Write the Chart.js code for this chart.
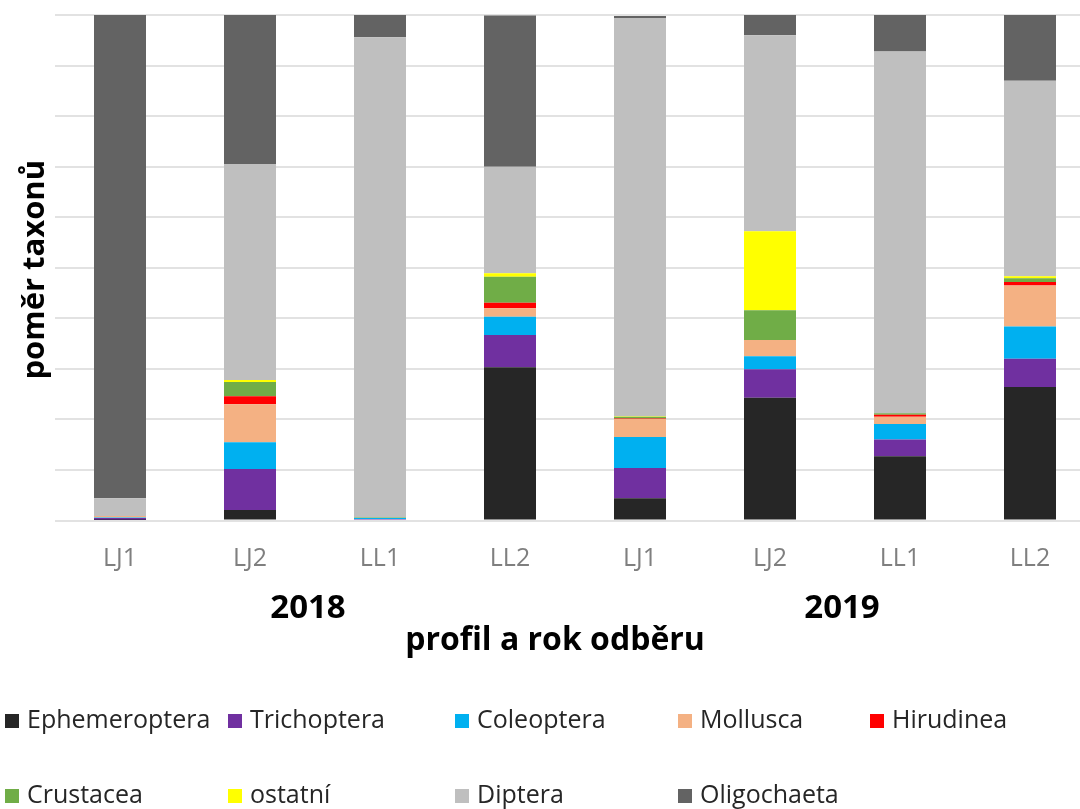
<!DOCTYPE html>
<html>
<head>
<meta charset="utf-8">
<script src="https://cdn.jsdelivr.net/npm/chart.js@4/dist/chart.umd.min.js"></script>
<style>
  html, body { margin: 0; padding: 0; background: #fff; overflow: hidden; }
  #wrap { width: 1100px; height: 809px; }
</style>
</head>
<body>
<div id="wrap"><canvas id="graf" width="1100" height="809"></canvas></div>
<script>
// profily a roky
const profily = ["LJ1", "LJ2", "LL1", "LL2", "LJ1", "LJ2", "LL1", "LL2"];
const roky = ["2018", "2019"];

// podíl taxonů v %
const ephemeroptera = [0.1, 2.1, 0.0, 30.3, 4.4, 24.3, 12.7, 26.4];
const trichoptera   = [0.4, 8.1, 0.3, 6.4, 6.0, 5.6, 3.3, 5.6];
const coleoptera    = [0.1, 5.3, 0.2, 3.6, 6.1, 2.6, 3.1, 6.4];
const mollusca      = [0.3, 7.5, 0.0, 1.7, 3.6, 3.2, 1.4, 8.1];
const hirudinea     = [0.0, 1.6, 0.0, 1.1, 0.1, 0.0, 0.4, 0.7];
const crustacea     = [0.0, 2.8, 0.1, 5.1, 0.3, 5.9, 0.3, 0.7];
const ostatni       = [0.0, 0.4, 0.0, 0.7, 0.1, 15.6, 0.0, 0.4];
const diptera       = [3.5, 42.7, 95.0, 21.1, 78.8, 38.8, 71.6, 38.7];
const oligochaeta   = [95.6, 29.5, 4.4, 29.9, 0.4, 4.0, 7.3, 13.1];

const yTicks = [0, 10, 20, 30, 40, 50, 60, 70, 80, 90, 100];

const taxony = [
  ["Ephemeroptera", ephemeroptera, "#262626"],
  ["Trichoptera", trichoptera, "#7030a0"],
  ["Coleoptera", coleoptera, "#00b0f0"],
  ["Mollusca", mollusca, "#f4b183"],
  ["Hirudinea", hirudinea, "#ff0000"],
  ["Crustacea", crustacea, "#70ad47"],
  ["ostatní", ostatni, "#ffff00"],
  ["Diptera", diptera, "#bfbfbf"],
  ["Oligochaeta", oligochaeta, "#636363"]
];

const FONT = "'Open Sans', 'Liberation Sans', sans-serif";

// popisky os, roky a legenda se kreslí ručně
const popiskyPlugin = {
  id: "popisky",
  afterDraw(chart) {
    const ctx = chart.ctx;
    const x = chart.scales.x;
    const area = chart.chartArea;
    ctx.save();
    ctx.fillStyle = "#000";
    ctx.textAlign = "center";
    ctx.textBaseline = "middle";

    // roky pod skupinami
    ctx.font = "bold 33px " + FONT;
    roky.forEach((rok, i) => {
      const a = x.getPixelForValue(i * 4);
      const b = x.getPixelForValue(i * 4 + 3);
      ctx.fillText(rok, (a + b) / 2 + (i === 0 ? -7 : 7), 609);
    });

    // název osy x
    ctx.font = "bold 32px " + FONT;
    ctx.fillText("profil a rok odběru", 555, 641);

    // název osy y
    ctx.save();
    ctx.translate(35, (area.top + area.bottom) / 2 + 2);
    ctx.rotate(-Math.PI / 2);
    ctx.font = "bold 31px " + FONT;
    ctx.fillText("poměr taxonů", 0, 0);
    ctx.restore();

    // legenda
    const sloupce = [5, 228, 455, 678, 870];
    const radky = [721, 796];
    ctx.font = "25px " + FONT;
    ctx.textAlign = "left";
    chart.data.datasets.forEach((ds, i) => {
      const sx = sloupce[i % 5];
      const sy = radky[Math.floor(i / 5)];
      ctx.fillStyle = ds.backgroundColor;
      ctx.fillRect(sx, sy - 7, 14, 14);
      ctx.fillStyle = "#262626";
      ctx.fillText(ds.label, sx + 22, sy);
    });
    ctx.restore();
  }
};

new Chart(document.getElementById("graf"), {
  type: "bar",
  data: {
    labels: profily,
    datasets: taxony.map(t => ({
      label: t[0],
      data: t[1],
      backgroundColor: t[2],
      borderWidth: 0,
      barPercentage: 0.8,
      categoryPercentage: 0.5
    }))
  },
  options: {
    responsive: false,
    animation: false,
    layout: { padding: { left: 55, top: 15, right: 5, bottom: 0 } },
    plugins: {
      legend: { display: false },
      tooltip: { enabled: false }
    },
    scales: {
      x: {
        stacked: true,
        grid: { display: false, drawTicks: false },
        border: { display: false },
        ticks: {
          color: "#7f7f7f",
          padding: 23,
          font: { family: FONT, size: 25 }
        },
        afterFit: s => { s.height = 288.5; }
      },
      y: {
        stacked: true,
        min: 0,
        max: 100,
        afterBuildTicks: s => { s.ticks = yTicks.map(v => ({ value: v })); },
        ticks: { display: false },
        grid: { color: "#e2e2e2", lineWidth: 2, drawTicks: false },
        border: { display: false },
        afterFit: s => { s.width = 0; }
      }
    }
  },
  plugins: [popiskyPlugin]
});
</script>
</body>
</html>
